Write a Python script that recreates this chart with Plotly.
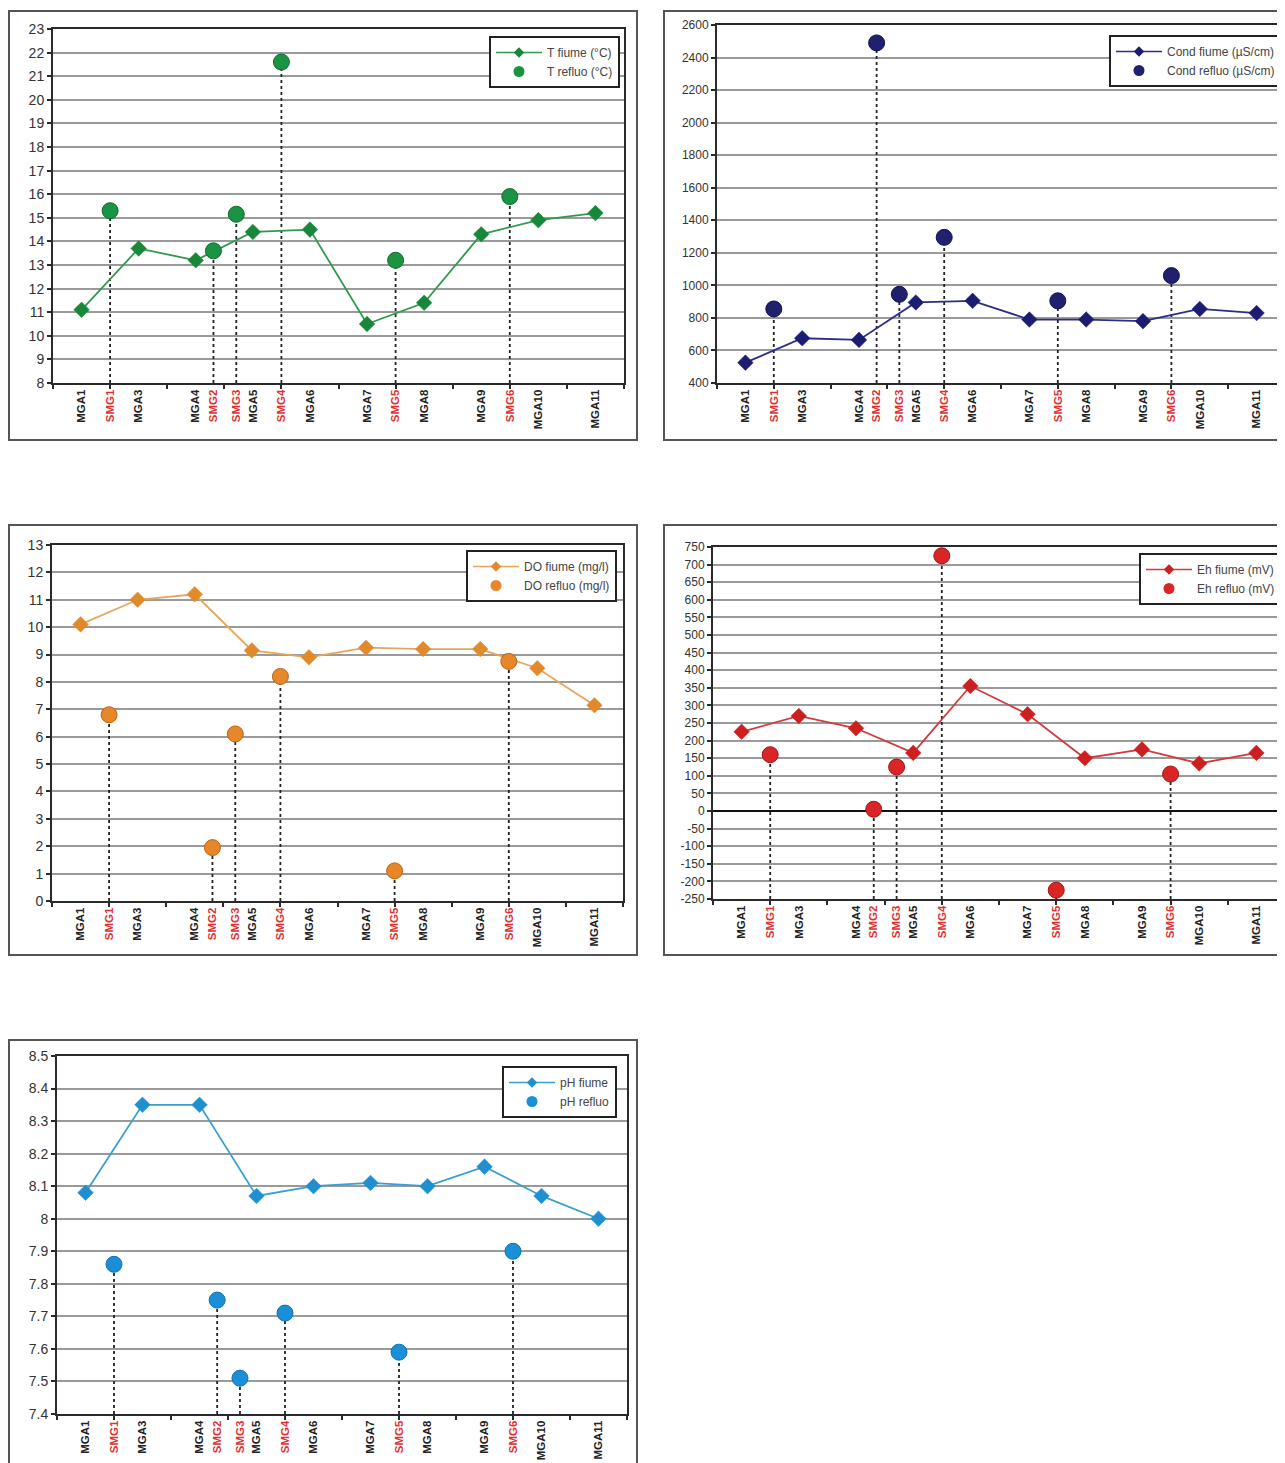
import plotly.graph_objects as go

# page body has an 8px margin; figure sized so it fits the 1285x1463 window
OX, OY = 8, 8
FW, FH = 1277, 1455

# ---------------- data ----------------
mga_labels = ["MGA1", "MGA3", "MGA4", "MGA5", "MGA6", "MGA7", "MGA8", "MGA9", "MGA10", "MGA11"]
mga_x = [0, 1, 2, 3, 4, 5, 6, 7, 8, 9]
smg_labels = ["SMG1", "SMG2", "SMG3", "SMG4", "SMG5", "SMG6"]
smg_x = [0.5, 2.31, 2.71, 3.5, 5.5, 7.5]

t_fiume = [11.1, 13.7, 13.2, 14.4, 14.5, 10.5, 11.4, 14.3, 14.9, 15.2]
t_refluo = [15.3, 13.6, 15.15, 21.6, 13.2, 15.9]

cond_fiume = [525, 675, 665, 895, 905, 790, 790, 780, 855, 830]
cond_refluo = [855, 2490, 945, 1295, 905, 1060]

do_fiume = [10.1, 11.0, 11.2, 9.15, 8.9, 9.25, 9.2, 9.2, 8.5, 7.15]
do_refluo = [6.8, 1.95, 6.1, 8.2, 1.1, 8.75]

eh_fiume = [225, 270, 235, 165, 355, 275, 150, 175, 135, 165]
eh_refluo = [160, 5, 125, 725, -225, 105]

ph_fiume = [8.08, 8.35, 8.35, 8.07, 8.10, 8.11, 8.10, 8.16, 8.07, 8.00]
ph_refluo = [7.86, 7.75, 7.51, 7.71, 7.59, 7.90]

# ---------------- layout helpers ----------------
def fx(p):
    return (p - OX) / FW

def fy(p):
    return 1 - (p - OY) / FH

panels = [
    dict(fiume=t_fiume, refluo=t_refluo, names=("T fiume (°C)", "T refluo (°C)"),
         line="#2f9a4e", mk="#17873a", ref="#1a9443", ref_edge="#0f6a2c",
         yr=(8, 23), ytv=list(range(8, 24)), fs=14,
         plot=(53, 624, 29, 383), box=(9, 637, 11, 440), leg=(620, 36)),
    dict(fiume=cond_fiume, refluo=cond_refluo, names=("Cond fiume (µS/cm)", "Cond refluo (µS/cm)"),
         line="#2c2c8a", mk="#1c1c72", ref="#20206e", ref_edge="#111150",
         yr=(400, 2600), ytv=list(range(400, 2601, 200)), fs=12,
         plot=(717, 1290, 25, 383), box=(664, 1300, 11, 440), leg=(1282, 35)),
    dict(fiume=do_fiume, refluo=do_refluo, names=("DO fiume (mg/l)", "DO refluo (mg/l)"),
         line="#e8a45a", mk="#e08a2c", ref="#e8862a", ref_edge="#b86415",
         yr=(0, 13), ytv=list(range(0, 14)), fs=14,
         plot=(52, 623, 545, 901), box=(9, 637, 525, 955), leg=(617, 550)),
    dict(fiume=eh_fiume, refluo=eh_refluo, names=("Eh fiume (mV)", "Eh refluo (mV)"),
         line="#d43a3a", mk="#cc1f1f", ref="#d92525", ref_edge="#a51515",
         yr=(-250, 750), ytv=list(range(-250, 751, 50)), fs=12,
         plot=(713, 1290, 547, 899), box=(664, 1300, 525, 955), leg=(1282, 553)),
    dict(fiume=ph_fiume, refluo=ph_refluo, names=("pH fiume", "pH refluo"),
         line="#3a9fd0", mk="#1f8fd0", ref="#1a8fd8", ref_edge="#1070b0",
         yr=(7.4, 8.5), ytv=[7.4, 7.5, 7.6, 7.7, 7.8, 7.9, 8.0, 8.1, 8.2, 8.3, 8.4, 8.5], fs=14,
         plot=(57, 627, 1056, 1414), box=(9, 637, 1040, 1480), leg=(617, 1066)),
]

# x tick labels: MGA (black) and SMG (red)
xticks = sorted(
    [(x, lab, False) for x, lab in zip(mga_x, mga_labels)] +
    [(x, lab, True) for x, lab in zip(smg_x, smg_labels)]
)
xtickvals = [t[0] for t in xticks]
xticktext = [
    (f'<span style="color:#e03030">{t[1]}</span>' if t[2] else t[1]) for t in xticks
]
boundaries = [i - 0.5 for i in range(11)]

fig = go.Figure()
layout = dict(
    width=FW, height=FH, margin=dict(l=0, r=0, t=0, b=0, autoexpand=False),
    paper_bgcolor="white", plot_bgcolor="white", showlegend=True,
    shapes=[],
)

for i, p in enumerate(panels, start=1):
    sfx = "" if i == 1 else str(i)
    xa, ya = "x" + sfx, "y" + sfx
    legname = "legend" + sfx
    ymin = p["yr"][0]

    # dotted drop lines from each refluo point to the x axis
    dx, dy = [], []
    for sx, v in zip(smg_x, p["refluo"]):
        dx += [sx, sx, None]
        dy += [ymin, v, None]
    fig.add_trace(go.Scatter(x=dx, y=dy, mode="lines", xaxis=xa, yaxis=ya,
                             line=dict(color="#222", width=1.8, dash="3px,3px"),
                             showlegend=False, hoverinfo="skip"))
    fig.add_trace(go.Scatter(x=mga_x, y=p["fiume"], mode="lines+markers", name=p["names"][0],
                             xaxis=xa, yaxis=ya, showlegend=False,
                             line=dict(color=p["line"], width=1.8),
                             marker=dict(symbol="diamond", size=12, color=p["mk"],
                                         line=dict(color=p["mk"], width=0.5))))
    fig.add_trace(go.Scatter(x=smg_x, y=p["refluo"], mode="markers", name=p["names"][1],
                             xaxis=xa, yaxis=ya, showlegend=False,
                             marker=dict(symbol="circle", size=16, color=p["ref"],
                                         line=dict(color=p["ref_edge"], width=1))))
    # legend entries (smaller symbols, as in the original legend)
    fig.add_trace(go.Scatter(x=[None], y=[None], mode="lines+markers", name=p["names"][0],
                             xaxis=xa, yaxis=ya, legend=legname,
                             line=dict(color=p["line"], width=1.6),
                             marker=dict(symbol="diamond", size=8, color=p["mk"])))
    fig.add_trace(go.Scatter(x=[None], y=[None], mode="markers", name=p["names"][1],
                             xaxis=xa, yaxis=ya, legend=legname,
                             marker=dict(symbol="circle", size=11, color=p["ref"])))

    x0, x1, y0, y1 = p["plot"]
    layout["xaxis" + sfx] = dict(
        domain=[fx(x0), min(1.0, fx(x1))], anchor=ya, range=[-0.5, 9.5],
        automargin=False,
        tickmode="array", tickvals=xtickvals, ticktext=xticktext,
        tickangle=-90, ticks="", ticklen=0,
        tickfont=dict(family="Arial", size=11.5, color="#222", weight="bold"),
        showgrid=False, zeroline=False,
        showline=True, linecolor="#2a2a2a", linewidth=2, mirror=True,
        minor=dict(tickmode="array", tickvals=boundaries, ticks="outside",
                   ticklen=4, tickwidth=1.5, tickcolor="#2a2a2a", showgrid=False),
    )
    ytt = [("%g" % v) for v in p["ytv"]]
    layout["yaxis" + sfx] = dict(
        domain=[fy(y1), fy(y0)], anchor=xa, range=list(p["yr"]),
        automargin=False,
        tickmode="array", tickvals=p["ytv"], ticktext=ytt,
        ticks="outside", ticklen=4, tickwidth=1.5, tickcolor="#2a2a2a",
        tickfont=dict(family="Arial", size=p["fs"], color="#333"),
        showgrid=True, gridcolor="#9a9a9a", gridwidth=1.8,
        zeroline=(i == 4), zerolinecolor="#111", zerolinewidth=2,
        showline=True, linecolor="#2a2a2a", linewidth=2, mirror=True,
    )
    lx, ly = p["leg"]
    layout[legname] = dict(
        x=fx(lx), y=fy(ly), xanchor="right", yanchor="top",
        bgcolor="white", bordercolor="#222", borderwidth=2,
        font=dict(family="Arial", size=12, color="#444"),
        tracegroupgap=0, itemwidth=46,
    )
    bx0, bx1, by0, by1 = p["box"]
    layout["shapes"].append(dict(type="rect", xref="paper", yref="paper",
                                 x0=fx(bx0), x1=fx(bx1), y0=fy(by1), y1=fy(by0),
                                 line=dict(color="#555", width=2), layer="below"))

fig.update_layout(**layout)
fig.write_html("out.html")
